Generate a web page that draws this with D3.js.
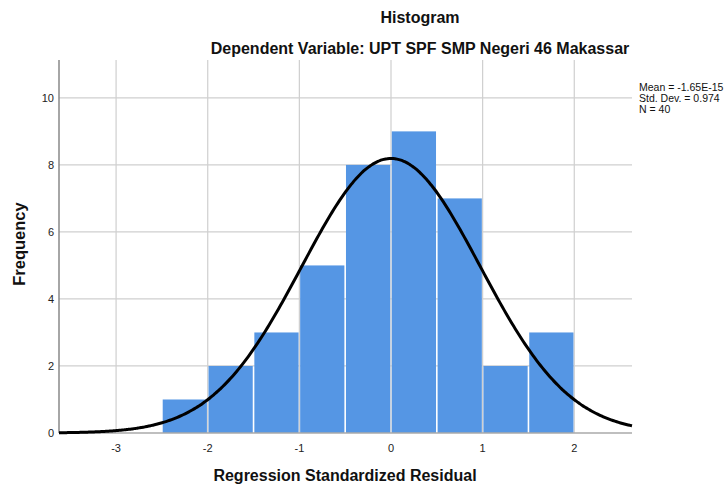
<!DOCTYPE html>
<html><head><meta charset="utf-8">
<script src="https://cdn.jsdelivr.net/npm/d3@7"></script>
<style>body{margin:0;background:#fff}svg{display:block}text{font-family:Arial,"Liberation Sans",sans-serif}</style>
</head><body>
<svg id="c" width="727" height="488"></svg>
<script>
const binStarts = [-2.5, -2, -1.5, -1, -0.5, 0, 0.5, 1, 1.5];
const binWidth = 0.5;
const counts = [1, 2, 3, 5, 8, 9, 7, 2, 3];
const xTicks = [-3, -2, -1, 0, 1, 2];
const yTicks = [0, 2, 4, 6, 8, 10];
const stats = {mean: -1.65e-15, sd: 0.974, n: 40};
const legendLines = ["Mean = -1.65E-15", "Std. Dev. = 0.974", "N = 40"];

const svg = d3.select("#c");
const L = 59, R = 632, T = 60, B = 433;
const x = d3.scaleLinear().domain([-3.623, 2.63]).range([L, R]);
const y = d3.scaleLinear().domain([0, 11.13]).range([B, T]);

// grid
svg.append("g").selectAll("line").data(xTicks).join("line")
  .attr("x1", d => x(d)).attr("x2", d => x(d)).attr("y1", T).attr("y2", B)
  .attr("stroke", "#cfcfcf").attr("stroke-width", 1.2);
svg.append("g").selectAll("line").data(yTicks.filter(d => d > 0)).join("line")
  .attr("x1", L).attr("x2", R).attr("y1", d => y(d)).attr("y2", d => y(d))
  .attr("stroke", "#cfcfcf").attr("stroke-width", 1.2);

// bars (small gap between bars lets the grid show through)
svg.append("g").selectAll("rect").data(counts).join("rect")
  .attr("x", (d, i) => x(binStarts[i]) + 0.8)
  .attr("width", (d, i) => x(binStarts[i] + binWidth) - x(binStarts[i]) - 1.6)
  .attr("y", d => y(d)).attr("height", d => B - y(d))
  .attr("fill", "#5596e4");

// axes lines
svg.append("line").attr("x1", L).attr("x2", L).attr("y1", T).attr("y2", B).attr("stroke", "#888").attr("stroke-width", 1.5);
svg.append("line").attr("x1", L).attr("x2", R).attr("y1", B).attr("y2", B).attr("stroke", "#aaa").attr("stroke-width", 1.5);

// normal curve
const scaleF = stats.n * binWidth / (stats.sd * Math.sqrt(2 * Math.PI));
const pts = d3.range(0, 301).map(i => {
  const xv = -3.623 + i * (2.63 + 3.623) / 300;
  const z = (xv - stats.mean) / stats.sd;
  return [xv, scaleF * Math.exp(-0.5 * z * z)];
});
svg.append("path").datum(pts)
  .attr("d", d3.line().x(d => x(d[0])).y(d => y(d[1])).curve(d3.curveBasis))
  .attr("fill", "none").attr("stroke", "#000").attr("stroke-width", 3);

// tick labels
svg.append("g").selectAll("text").data(xTicks).join("text")
  .attr("x", d => x(d)).attr("y", 452).attr("text-anchor", "middle")
  .attr("font-size", 11).attr("fill", "#222").text(d => d);
svg.append("g").selectAll("text").data(yTicks).join("text")
  .attr("x", 54).attr("y", d => y(d) + 4).attr("text-anchor", "end")
  .attr("font-size", 11).attr("fill", "#222").text(d => d);

// titles
svg.append("text").attr("x", 420).attr("y", 23).attr("text-anchor", "middle")
  .attr("font-size", 16).attr("font-weight", "bold").attr("fill", "#111").text("Histogram");
svg.append("text").attr("x", 420).attr("y", 54).attr("text-anchor", "middle")
  .attr("font-size", 16).attr("font-weight", "bold").attr("fill", "#111").text("Dependent Variable: UPT SPF SMP Negeri 46 Makassar");
svg.append("text").attr("x", 345).attr("y", 481).attr("text-anchor", "middle")
  .attr("font-size", 16).attr("font-weight", "bold").attr("fill", "#111").text("Regression Standardized Residual");
svg.append("text").attr("transform", "translate(25,244) rotate(-90)").attr("text-anchor", "middle")
  .attr("font-size", 16.5).attr("font-weight", "bold").attr("fill", "#111").text("Frequency");

// legend
svg.append("g").selectAll("text").data(legendLines).join("text")
  .attr("x", 639).attr("y", (d, i) => 91 + i * 11)
  .attr("font-size", 10.5).attr("fill", "#111").text(d => d);
</script>
</body></html>
